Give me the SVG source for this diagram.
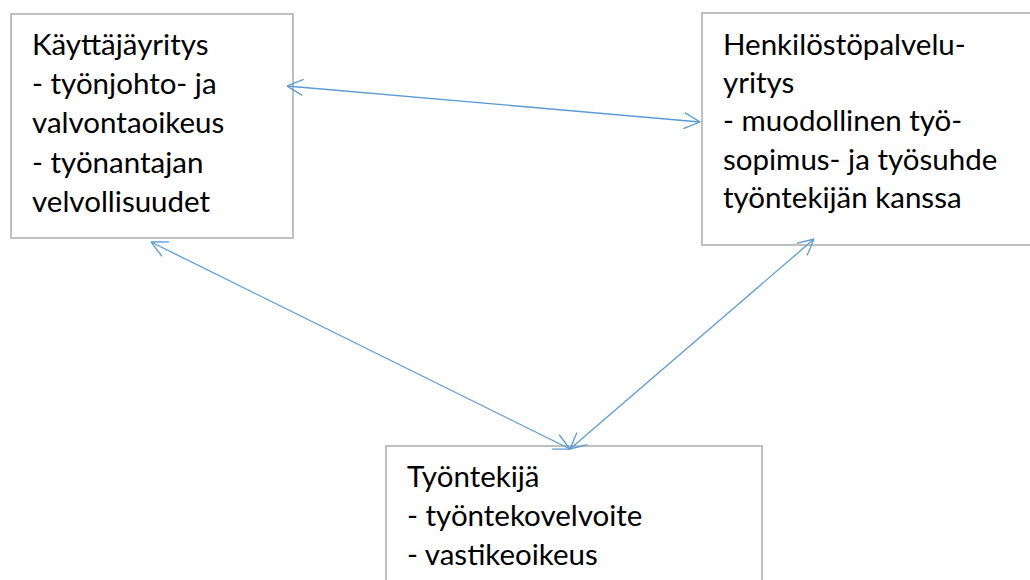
<svg xmlns="http://www.w3.org/2000/svg" width="1030" height="580" viewBox="0 0 1030 580">
<style>
.box{fill:#fff;stroke:#bfbfbf;stroke-width:2}
.t{font-family:Lato,"Open Sans","Liberation Sans",sans-serif;font-size:29.5px;fill:#000}
.c{stroke:#5b9bd5;stroke-width:1.3;fill:none}
</style>
<defs>
<marker id="ah" viewBox="0 0 16 18" refX="16" refY="9" markerWidth="16" markerHeight="18" markerUnits="userSpaceOnUse" orient="auto-start-reverse">
<path d="M0,1 L16,9 L0,17" fill="none" stroke="#5b9bd5" stroke-width="1.3"/>
</marker>
</defs>
<rect width="1030" height="580" fill="#fff"/>
<g id="kayttajayritys">
<rect class="box" x="11" y="14" width="282" height="224"/>
<text class="t" x="32" y="55">Käyttäjäyritys</text>
<text class="t" x="32" y="94">- työnjohto- ja</text>
<text class="t" x="32" y="133">valvontaoikeus</text>
<text class="t" x="32" y="173">- työnantajan</text>
<text class="t" x="32" y="212">velvollisuudet</text>
</g>
<g id="henkilostopalveluyritys">
<rect class="box" x="702" y="13" width="340" height="232"/>
<text class="t" x="723" y="55">Henkilöstöpalvelu-</text>
<text class="t" x="723" y="93">yritys</text>
<text class="t" x="723" y="131">- muodollinen työ-</text>
<text class="t" x="723" y="170">sopimus- ja työsuhde</text>
<text class="t" x="723" y="208">työntekijän kanssa</text>
</g>
<g id="tyontekija">
<rect class="box" x="386" y="446" width="376" height="150"/>
<text class="t" x="407" y="487">Työntekijä</text>
<text class="t" x="407" y="526">- työntekovelvoite</text>
<text class="t" x="407" y="565">- vastikeoikeus</text>
</g>
<g id="connectors">
<line class="c" x1="287" y1="86" x2="700" y2="122" marker-start="url(#ah)" marker-end="url(#ah)"/>
<line class="c" x1="151" y1="242" x2="570" y2="449" marker-start="url(#ah)" marker-end="url(#ah)"/>
<line class="c" x1="814" y1="239" x2="570" y2="449" marker-start="url(#ah)" marker-end="url(#ah)"/>
</g>
</svg>
